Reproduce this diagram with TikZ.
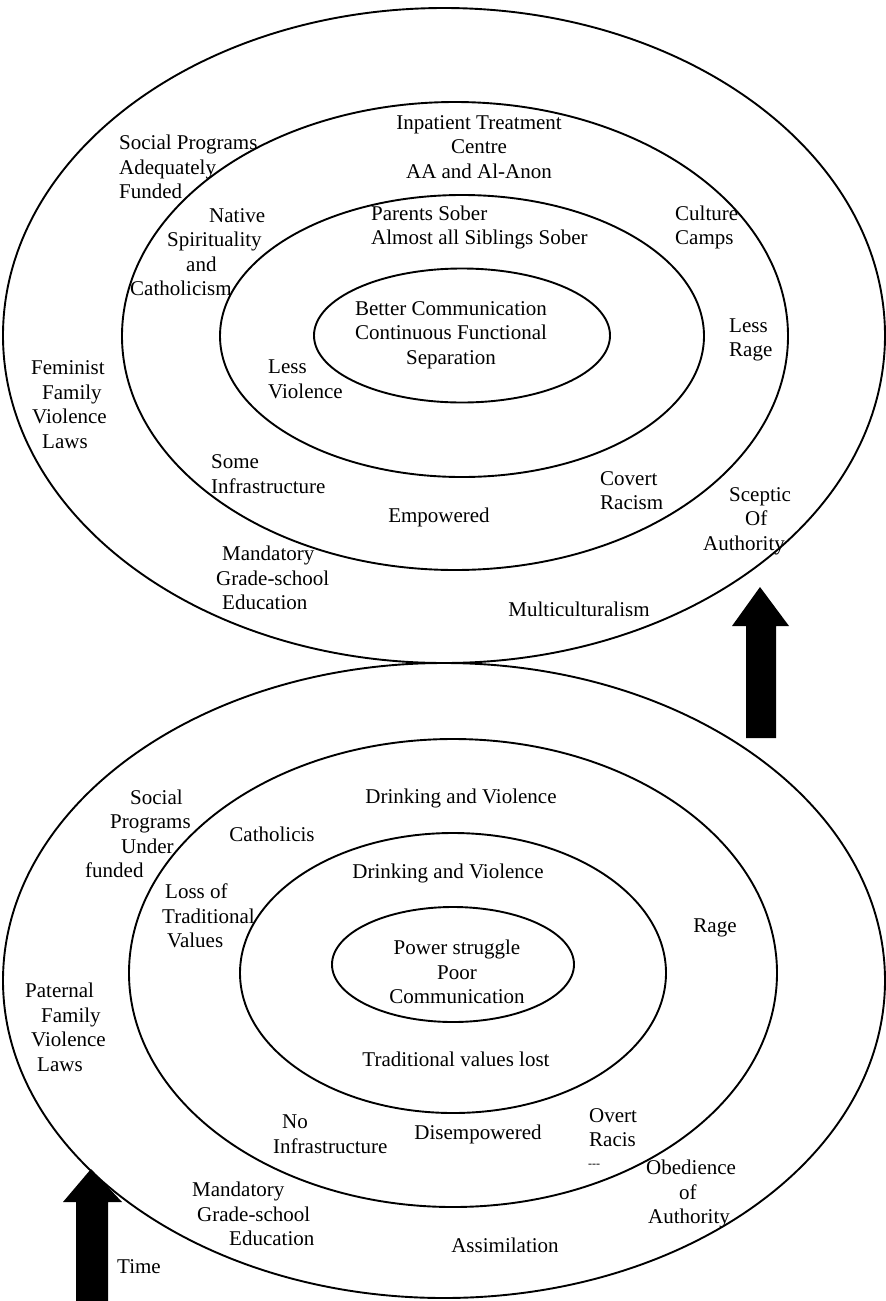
\documentclass[tikz,border=0pt]{standalone}
\usepackage{fontspec}
\setmainfont{Liberation Serif}
\begin{document}
\begin{tikzpicture}[x=1pt,y=-1pt,
  ring/.style={line width=1.9pt},
  lbl/.style={inner sep=0pt,font=\fontsize{21}{24.5}\selectfont},
  lblc/.style={lbl,align=center},
  lbll/.style={lbl,align=left,anchor=west},
  timearrow/.style={fill=black}]
\useasboundingbox (0,0) rectangle (886,1301);
% ---- upper set of rings ----
\draw[ring] (444,335.5) ellipse [x radius=441pt,y radius=327.5pt];
\draw[ring] (455,336) ellipse [x radius=333pt,y radius=234pt];
\draw[ring] (462,336) ellipse [x radius=242pt,y radius=141pt];
\draw[ring] (462,335.5) ellipse [x radius=148pt,y radius=67pt];
% ---- lower set of rings ----
\draw[ring] (444,980.5) ellipse [x radius=441pt,y radius=317.5pt];
\draw[ring] (453,973) ellipse [x radius=324pt,y radius=234pt];
\draw[ring] (453,973) ellipse [x radius=213pt,y radius=140pt];
\draw[ring] (453,964.5) ellipse [x radius=121pt,y radius=57.5pt];
% ---- arrows ----
\fill[timearrow] (760,587) -- (789,626) -- (776,626) -- (776,738) -- (746,738) -- (746,626) -- (732,626) -- cycle;
\fill[timearrow] (91,1169) -- (122,1202) -- (108,1202) -- (108,1301) -- (76,1301) -- (76,1202) -- (63,1202) -- cycle;
% ---- upper labels ----
\node[lbll] (spa) at (119,167) {Social Programs\\Adequately\\Funded};
\node[lblc] (ipt) at (479,147) {Inpatient Treatment\\Centre\\AA and Al-Anon};
\node[lbll] (nsc) at (130,252) {\hspace*{79pt}Native\\\hspace*{37pt}Spirituality\\\hspace*{56pt}and\\Catholicism};
\node[lbll] (pso) at (371,227.5) {Parents Sober\\Almost all Siblings Sober};
\node[lbll] (ccp) at (675,227.5) {Culture\\Camps};
\node[lblc] (bcm) at (451,335) {Better Communication\\Continuous Functional\\Separation};
\node[lbll] (lrg) at (729,340) {Less\\Rage};
\node[lbll] (ffv) at (31,404.5) {Feminist\\\hspace*{11pt}Family\\\hspace*{1pt}Violence\\\hspace*{11pt}Laws};
\node[lbll] (lvi) at (268,379.5) {Less\\Violence};
\node[lbll] (sin) at (211,474) {Some\\Infrastructure};
\node[lbll] (cra) at (600,490.5) {Covert\\Racism};
\node[lblc] (emp) at (439,517) {Empowered};
\node[lbll] (soa) at (703,521) {\hspace*{26pt}Sceptic\\\hspace*{42pt}Of\\Authority};
\node[lbll] (mge) at (216,578) {\hspace*{6pt}Mandatory\\Grade-school\\\hspace*{6pt}Education};
\node[lblc] (mcu) at (579,609) {Multiculturalism};
% ---- lower labels ----
\node[lbll] (spu) at (85,834) {\hspace*{45pt}Social\\\hspace*{25pt}Programs\\\hspace*{36pt}Under\\funded};
\node[lblc] (dvo) at (461,798) {Drinking and Violence};
\node[lblc] (cat) at (272,834) {Catholicis};
\node[lblc] (dvi) at (448,873) {Drinking and Violence};
\node[lbll] (ltv) at (162,916) {\hspace*{3pt}Loss of\\Traditional\\\hspace*{5pt}Values};
\node[lblc] (rge) at (715,928) {Rage};
\node[lblc] (pspc) at (457,972) {Power struggle\\Poor\\Communication};
\node[lbll] (pfv) at (25,1027.5) {Paternal\\\hspace*{16pt}Family\\\hspace*{6pt}Violence\\\hspace*{12pt}Laws};
\node[lblc] (tvl) at (456,1059) {Traditional values lost};
\node[lbll] (nin) at (273,1134) {\hspace*{9pt}No\\Infrastructure};
\node[lblc] (dis) at (478,1134) {Disempowered};
\node[lbll] (ora) at (589,1127.5) {Overt\\Racis};
\node[lbl] (dsh) at (594,1166) {\fontsize{12}{13}\selectfont -{}-{}-};
\node[lbll] (ooa) at (646,1194) {Obedience\\\hspace*{33pt}of\\\hspace*{2pt}Authority};
\node[lbll] (mge2) at (192,1214) {Mandatory\\\hspace*{5pt}Grade-school\\\hspace*{37pt}Education};
\node[lblc] (asm) at (505,1245) {Assimilation};
\node[lbll] (tim) at (117,1267) {Time};
\end{tikzpicture}
\end{document}
